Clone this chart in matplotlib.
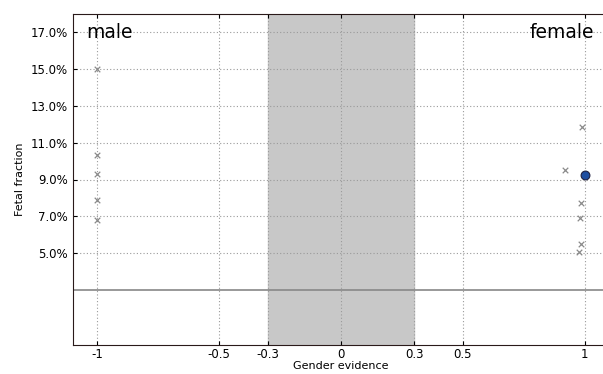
import matplotlib
matplotlib.use("Agg")
import matplotlib.pyplot as plt
from matplotlib.ticker import FuncFormatter

male_x = [-1, -1, -1, -1, -1]
male_y = [15.0, 10.35, 9.3, 7.9, 6.8]
female_x = [0.99, 0.92, 0.985, 0.98, 0.985, 0.975]
female_y = [11.85, 9.5, 7.7, 6.9, 5.5, 5.05]
sample_x = [1.0]
sample_y = [9.25]
xticks = [-1, -0.5, -0.3, 0, 0.3, 0.5, 1]
xticklabels = ["-1", "-0.5", "-0.3", "0", "0.3", "0.5", "1"]
yticks = [5, 7, 9, 11, 13, 15, 17]
threshold = 3.0

fig = plt.figure(figsize=(6.03, 3.74), dpi=100)
ax = fig.add_axes([73/603, 29/374, (609-73)/603, (345-14)/374])
ax.axvspan(-0.3, 0.3, color="#c8c8c8", zorder=0)
ax.axhline(threshold, color="#888888", lw=1.2, zorder=1)
ax.scatter(male_x + female_x, male_y + female_y, marker="x", s=16, color="#8a8a8a", linewidths=0.9, zorder=3)
ax.scatter(sample_x, sample_y, marker="o", s=40, color="#1f4ea0", edgecolors="#202040", linewidths=0.8, zorder=4)
ax.set_xlim(-1.1, 1.1)
ax.set_ylim(0, 18)
ax.set_xticks(xticks)
ax.set_xticklabels(xticklabels)
ax.set_yticks(yticks)
ax.yaxis.set_major_formatter(FuncFormatter(lambda v, p: f"{v:.1f}%"))
ax.grid(True, linestyle=(0, (1, 2)), color="#9a9a9a", lw=0.8)
ax.set_axisbelow(True)
ax.tick_params(labelsize=8.5, length=3, direction="in", top=True, right=True)
ax.tick_params(axis="x", pad=2.5)
for s in ax.spines.values():
    s.set_color("#2a1a1a")
ax.set_ylabel("Fetal fraction", fontsize=8, labelpad=4)
ax.set_xlabel("Gender evidence", fontsize=8, labelpad=0)
ax.text(-1.045, 17.0, "male", fontsize=13.5, ha="left", va="center")
ax.text(1.04, 17.0, "female", fontsize=13.5, ha="right", va="center")
fig.savefig("out.png", dpi=100)
